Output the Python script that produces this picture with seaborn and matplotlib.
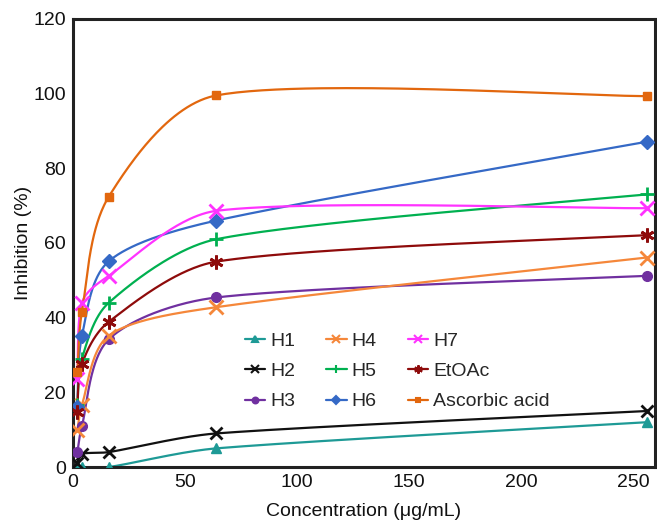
import numpy as np
import pandas as pd
import matplotlib
matplotlib.use("Agg")
import matplotlib.pyplot as plt
import seaborn as sns

conc = [2, 4, 16, 64, 256]
h1 = [0, 0, 0, 5, 12]
h2 = [1, 3.5, 4, 9, 15]
h3 = [4, 11, 34.2, 45.4, 51.2]
h4 = [10, 16.5, 35.2, 42.8, 56.1]
h5 = [16.5, 29, 44, 61, 73]
h6 = [16, 35, 55.1, 66, 87.1]
h7 = [23.5, 44, 51.2, 68.6, 69.3]
etoac = [14.8, 27.5, 38.9, 55, 62.1]
ascorbic = [25.5, 41.5, 72.4, 99.5, 99.3]

names = ["H1", "H2", "H3", "H4", "H5", "H6", "H7", "EtOAc", "Ascorbic acid"]
series = [h1, h2, h3, h4, h5, h6, h7, etoac, ascorbic]
colors = ["#1E9A96", "#111111", "#7030A0", "#F5873A", "#00B050", "#3569C6",
          "#FF33FF", "#8E0B0B", "#E2670E"]
markers = ["^", "x", "o", "x", "+", "D", "x", (6, 2, 0), "s"]
msizes = [7, 9, 7, 10, 10, 7, 10, 10, 6]

XMAX, YMAX = 259.6, 120
SX, SY = 582 / XMAX, 448 / YMAX  # screen scale used for smoothing


def smooth(x, y, n=60):
    P = np.column_stack([np.asarray(x, float) * SX, np.asarray(y, float) * SY])
    m = len(P)
    d = [np.linalg.norm(P[i + 1] - P[i]) for i in range(m - 1)]
    pts = []
    for i in range(m - 1):
        p1, p2 = P[i], P[i + 1]
        if i == 0:
            c1 = p1 + (p2 - p1) / 6.0
        else:
            f = min(d[i] / (d[i - 1] + d[i]), 0.5) / 3.0
            c1 = p1 + (p2 - P[i - 1]) * f
        if i + 2 >= m:
            c2 = p2 - (p2 - p1) / 6.0
        else:
            f = min(d[i] / (d[i] + d[i + 1]), 0.5) / 3.0
            c2 = p2 - (P[i + 2] - p1) * f
        t = np.linspace(0, 1, n)[:, None]
        b = ((1 - t) ** 3) * p1 + 3 * ((1 - t) ** 2) * t * c1 + 3 * (1 - t) * t ** 2 * c2 + t ** 3 * p2
        pts.append(b if i == 0 else b[1:])
    B = np.vstack(pts)
    return B[:, 0] / SX, B[:, 1] / SY


sns.set_theme(style="white")
plt.rcParams["font.family"] = ["Liberation Sans", "DejaVu Sans"]

fig = plt.figure(figsize=(6.57, 5.23), dpi=100)
ax = fig.add_axes([0.111, 0.107, 0.886, 0.857])

for name, ys, c, mk, ms in zip(names, series, colors, markers, msizes):
    cx, cy = smooth(conc, ys)
    cdf = pd.DataFrame({"x": cx, "y": cy})
    sns.lineplot(data=cdf, x="x", y="y", sort=False, estimator=None, ax=ax,
                 color=c, linewidth=1.6, zorder=2)
    ax.plot(conc, ys, linestyle="none", marker=mk, color=c, markersize=ms,
            markeredgewidth=2 if mk in ("x", "+", (6, 2, 0)) else 1, zorder=3)
    ax.plot([], [], color=c, linewidth=1.6, marker=mk,
            markersize=ms * 0.6, markeredgewidth=1.5, label=name)

ax.set_xlim(0, XMAX)
ax.set_ylim(0, YMAX)
ax.set_xticks([0, 50, 100, 150, 200, 250])
ax.set_yticks([0, 20, 40, 60, 80, 100, 120])
ax.tick_params(axis="both", labelsize=14, length=0, pad=5, colors="#111111")
ax.set_xlabel("Concentration (μg/mL)", fontsize=14, labelpad=9, color="#111111")
ax.set_ylabel("Inhibition (%)", fontsize=14, labelpad=1, color="#111111")
for s in ax.spines.values():
    s.set_color("#222222")
    s.set_linewidth(2.2)

ax.legend(ncol=3, frameon=False, fontsize=14, loc="upper left",
          bbox_to_anchor=(0.282, 0.318), handlelength=1.05, handletextpad=0.25,
          columnspacing=1.6, labelspacing=0.65, borderaxespad=0)

fig.savefig("out.png", dpi=100)
